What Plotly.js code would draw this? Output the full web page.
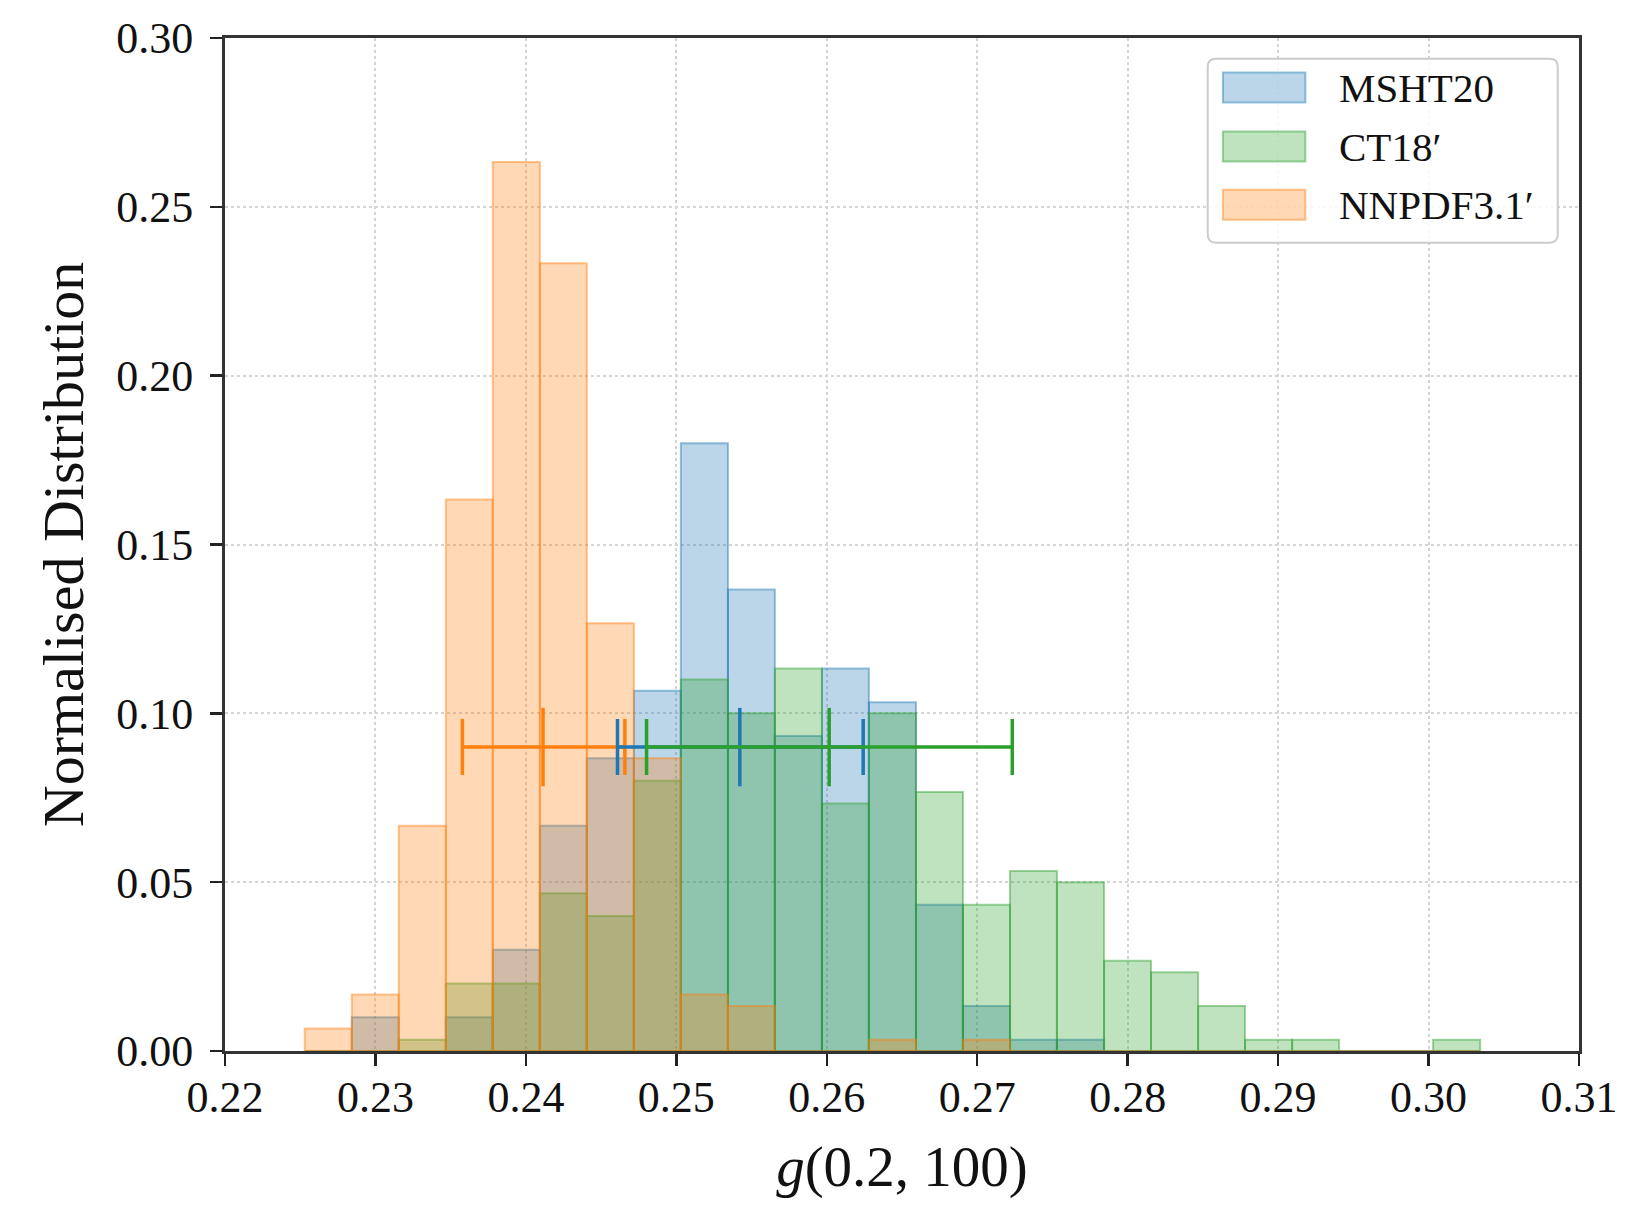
<!DOCTYPE html>
<html>
<head>
<meta charset="utf-8">
<script src="https://cdn.plot.ly/plotly-3.0.1.min.js"></script>
<style>html,body{margin:0;padding:0;background:#fff;}#chart{width:1628px;height:1205px;}</style>
</head>
<body>
<div id="chart"></div>
<script>
// Shared histogram bin edges (x = g(0.2,100))
const binEdges = [0.2253, 0.22843, 0.23155, 0.23468, 0.2378, 0.24093, 0.24405, 0.24718, 0.2503,
  0.25343, 0.25655, 0.25968, 0.2628, 0.26593, 0.26905, 0.27218, 0.2753, 0.27843, 0.28155,
  0.28468, 0.2878, 0.29093, 0.29405, 0.29718, 0.3003, 0.30343];

const seriesNames = ["MSHT20", "CT18\u2032", "NNPDF3.1\u2032"];

// Normalised distribution per bin
const msht20 = [0, 0.0100, 0, 0.0100, 0.0300, 0.0667, 0.0867, 0.1067, 0.1800, 0.1367, 0.0933,
  0.1133, 0.1033, 0.0433, 0.0133, 0.0033, 0.0033, 0, 0, 0, 0, 0, 0, 0, 0];
const ct18 = [0, 0, 0.0033, 0.0200, 0.0200, 0.0467, 0.0400, 0.0800, 0.1100, 0.1000, 0.1133,
  0.0733, 0.1000, 0.0767, 0.0433, 0.0533, 0.0500, 0.0267, 0.0233, 0.0133, 0.0033, 0.0033, 0, 0, 0.0033];
const nnpdf31 = [0.0067, 0.0167, 0.0667, 0.1633, 0.2633, 0.2333, 0.1267, 0.0867, 0.0167, 0.0133,
  0, 0, 0.0033, 0, 0.0033, 0, 0, 0, 0, 0, 0, 0, 0, 0, 0];

// Central values and 68% intervals (error bars drawn at y = 0.09)
const centralValues = [0.25422, 0.26016, 0.24114];
const lowerValues = [0.24609, 0.24802, 0.23578];
const upperValues = [0.26242, 0.27233, 0.24658];
const errorBarLevel = [0.09, 0.09, 0.09];

const yTicks = [0.00, 0.05, 0.10, 0.15, 0.20, 0.25, 0.30];
const xTicks = [0.22, 0.23, 0.24, 0.25, 0.26, 0.27, 0.28, 0.29, 0.30, 0.31];

const rgb = [[31,119,180],[44,160,44],[255,127,14]];
const solid = ["#1f77b4", "#2ca02c", "#ff7f0e"];
const FONT = "Liberation Serif, Times New Roman, serif";

const centers = [], widths = [];
for (let i = 0; i < binEdges.length - 1; i++) {
  centers.push((binEdges[i] + binEdges[i+1]) / 2);
  widths.push(binEdges[i+1] - binEdges[i]);
}

const allSeries = [msht20, ct18, nnpdf31];
const traces = [];
allSeries.forEach((vals, k) => {
  const c = rgb[k];
  traces.push({
    type: "bar", x: centers, y: vals, width: widths, name: seriesNames[k],
    marker: {color: `rgba(${c[0]},${c[1]},${c[2]},0.3)`,
             line: {color: `rgba(${c[0]},${c[1]},${c[2]},0.45)`, width: 2}},
    showlegend: false, hoverinfo: "skip"
  });
});
// error bars: order orange, blue, green
[2, 0, 1].forEach(k => {
  traces.push({
    type: "scatter", mode: "markers",
    x: [centralValues[k]], y: [errorBarLevel[k]],
    marker: {symbol: "line-ns", size: 56, color: solid[k], line: {color: solid[k], width: 3.5}},
    error_x: {type: "data", symmetric: false,
              array: [upperValues[k] - centralValues[k]],
              arrayminus: [centralValues[k] - lowerValues[k]],
              color: solid[k], thickness: 3.5, width: 28},
    showlegend: false, hoverinfo: "skip"
  });
});

// custom legend (paper coords)
const shapes = [];
const annotations = [];
const lx0 = 0.7258, lx1 = 0.9843, ly0 = 0.7979, ly1 = 0.9796, rx = 0.006, ry = 0.008;
shapes.push({
  type: "path", xref: "paper", yref: "paper",
  path: `M${lx0+rx},${ly0} L${lx1-rx},${ly0} Q${lx1},${ly0} ${lx1},${ly0+ry} L${lx1},${ly1-ry} Q${lx1},${ly1} ${lx1-rx},${ly1} L${lx0+rx},${ly1} Q${lx0},${ly1} ${lx0},${ly1-ry} L${lx0},${ly0+ry} Q${lx0},${ly0} ${lx0+rx},${ly0} Z`,
  fillcolor: "rgba(255,255,255,0.85)", line: {color: "#cccccc", width: 2}
});
const rowY = [0.9511, 0.8928, 0.8355];
seriesNames.forEach((n, k) => {
  const c = rgb[k];
  shapes.push({type: "rect", xref: "paper", yref: "paper",
    x0: 0.7370, x1: 0.7979, y0: rowY[k] - 0.0148, y1: rowY[k] + 0.0148,
    fillcolor: `rgba(${c[0]},${c[1]},${c[2]},0.3)`,
    line: {color: `rgba(${c[0]},${c[1]},${c[2]},0.45)`, width: 2}});
  annotations.push({xref: "paper", yref: "paper", x: 0.8211, y: rowY[k],
    xanchor: "left", yanchor: "middle", showarrow: false, text: n,
    font: {family: FONT, size: 41, color: "#111"}});
});

const layout = {
  width: 1628, height: 1205,
  margin: {l: 225, r: 49, t: 38, b: 154},
  paper_bgcolor: "#fff", plot_bgcolor: "#fff",
  barmode: "overlay", bargap: 0,
  showlegend: false,
  font: {family: FONT, size: 44, color: "#111"},
  xaxis: {
    range: [0.22, 0.31], tickvals: xTicks, tickformat: ".2f",
    ticks: "outside", ticklen: 12, tickwidth: 2.5, tickcolor: "#222",
    showline: true, linecolor: "#333", linewidth: 3, mirror: true,
    showgrid: true, gridcolor: "#d4d4d4", griddash: "dot", gridwidth: 2,
    zeroline: false, ticklabelstandoff: -7,
    tickfont: {family: FONT, size: 44, color: "#111"},
    title: {text: "<i>g</i>(0.2, 100)", font: {family: FONT, size: 57, color: "#111"}, standoff: 26}
  },
  yaxis: {
    range: [0, 0.30], tickvals: yTicks, tickformat: ".2f",
    ticks: "outside", ticklen: 12, tickwidth: 2.5, tickcolor: "#222",
    showline: true, linecolor: "#333", linewidth: 3, mirror: true,
    showgrid: true, gridcolor: "#d4d4d4", griddash: "dot", gridwidth: 2,
    zeroline: false, ticklabelstandoff: 8,
    tickfont: {family: FONT, size: 44, color: "#111"},
    title: {text: "Normalised Distribution", font: {family: FONT, size: 58, color: "#111"}, standoff: 14}
  },
  shapes: shapes, annotations: annotations
};

Plotly.newPlot("chart", traces, layout, {displayModeBar: false, staticPlot: true});
</script>
</body>
</html>
